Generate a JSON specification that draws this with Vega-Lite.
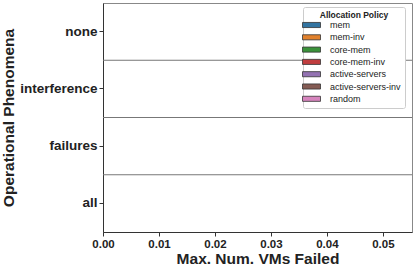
{
  "$schema": "https://vega.github.io/schema/vega-lite/v6.json",
  "autosize": "none",
  "width": 309,
  "height": 229,
  "padding": {"left": 103, "top": 3, "right": 3, "bottom": 36},
  "background": "white",
  "config": {
    "view": {"stroke": "#888", "strokeWidth": 1},
    "font": "Liberation Sans",
    "axis": {
      "labelFont": "Liberation Sans",
      "labelFontWeight": "bold",
      "labelColor": "#222",
      "titleFont": "Liberation Sans",
      "titleFontWeight": "bold",
      "titleColor": "#222",
      "domainColor": "#333",
      "tickColor": "#333",
      "grid": false
    }
  },
  "data": {
    "values": [
      {"phenomenon": "none", "policy": "mem", "value": 0},
      {"phenomenon": "none", "policy": "mem-inv", "value": 0},
      {"phenomenon": "none", "policy": "core-mem", "value": 0},
      {"phenomenon": "none", "policy": "core-mem-inv", "value": 0},
      {"phenomenon": "none", "policy": "active-servers", "value": 0},
      {"phenomenon": "none", "policy": "active-servers-inv", "value": 0},
      {"phenomenon": "none", "policy": "random", "value": 0},
      {"phenomenon": "interference", "policy": "mem", "value": 0},
      {"phenomenon": "interference", "policy": "mem-inv", "value": 0},
      {"phenomenon": "interference", "policy": "core-mem", "value": 0},
      {"phenomenon": "interference", "policy": "core-mem-inv", "value": 0},
      {"phenomenon": "interference", "policy": "active-servers", "value": 0},
      {"phenomenon": "interference", "policy": "active-servers-inv", "value": 0},
      {"phenomenon": "interference", "policy": "random", "value": 0},
      {"phenomenon": "failures", "policy": "mem", "value": 0},
      {"phenomenon": "failures", "policy": "mem-inv", "value": 0},
      {"phenomenon": "failures", "policy": "core-mem", "value": 0},
      {"phenomenon": "failures", "policy": "core-mem-inv", "value": 0},
      {"phenomenon": "failures", "policy": "active-servers", "value": 0},
      {"phenomenon": "failures", "policy": "active-servers-inv", "value": 0},
      {"phenomenon": "failures", "policy": "random", "value": 0},
      {"phenomenon": "all", "policy": "mem", "value": 0},
      {"phenomenon": "all", "policy": "mem-inv", "value": 0},
      {"phenomenon": "all", "policy": "core-mem", "value": 0},
      {"phenomenon": "all", "policy": "core-mem-inv", "value": 0},
      {"phenomenon": "all", "policy": "active-servers", "value": 0},
      {"phenomenon": "all", "policy": "active-servers-inv", "value": 0},
      {"phenomenon": "all", "policy": "random", "value": 0}
    ]
  },
  "layer": [
    {
      "mark": {"type": "bar", "strokeWidth": 0},
      "encoding": {
        "y": {
          "field": "phenomenon",
          "type": "nominal",
          "sort": ["none", "interference", "failures", "all"],
          "scale": {"paddingInner": 0, "paddingOuter": 0},
          "axis": {
            "title": "Operational Phenomena",
            "labelFontSize": 13.5,
            "tickSize": 4,
            "labelPadding": 2,
            "titleFontSize": 15.5,
            "titlePadding": 3
          }
        },
        "yOffset": {
          "field": "policy",
          "type": "nominal",
          "sort": ["mem", "mem-inv", "core-mem", "core-mem-inv", "active-servers", "active-servers-inv", "random"]
        },
        "x": {
          "field": "value",
          "type": "quantitative",
          "scale": {"domain": [0, 0.0552], "nice": false},
          "axis": {
            "title": "Max. Num. VMs Failed",
            "values": [0, 0.01, 0.02, 0.03, 0.04, 0.05],
            "format": ".2f",
            "labelFlush": false,
            "labelFontSize": 11.5,
            "tickSize": 4,
            "labelPadding": 2,
            "titleFontSize": 15.5,
            "titlePadding": 2
          }
        },
        "color": {
          "field": "policy",
          "type": "nominal",
          "sort": ["mem", "mem-inv", "core-mem", "core-mem-inv", "active-servers", "active-servers-inv", "random"],
          "scale": {
            "domain": ["mem", "mem-inv", "core-mem", "core-mem-inv", "active-servers", "active-servers-inv", "random"],
            "range": ["#3274a1", "#e1812c", "#3a923a", "#c03d3e", "#9372b2", "#845b53", "#d684bd"]
          },
          "legend": {
            "title": "Allocation Policy",
            "orient": "none",
            "legendX": 200,
            "legendY": 4,
            "titleFont": "Liberation Sans",
            "titleFontSize": 8.5,
            "titleFontWeight": "bold",
            "titleColor": "#222",
            "titleAnchor": "middle",
            "titlePadding": 1,
            "labelFont": "Liberation Sans",
            "labelFontSize": 9,
            "labelColor": "#222",
            "symbolType": "M-3,-0.85H3V0.85H-3Z",
            "symbolSize": 36,
            "symbolStrokeColor": "#333",
            "symbolStrokeWidth": 0.8,
            "symbolOpacity": 1,
            "labelOffset": 14,
            "rowPadding": 2.3,
            "padding": 4,
            "strokeColor": "#ccc",
            "fillColor": "white",
            "cornerRadius": 2
          }
        }
      }
    },
    {
      "transform": [
        {"filter": "datum.policy === 'mem' && datum.phenomenon !== 'none'"}
      ],
      "mark": {"type": "rule", "color": "#777", "strokeWidth": 1},
      "encoding": {
        "y": {
          "field": "phenomenon",
          "type": "nominal",
          "sort": ["none", "interference", "failures", "all"],
          "bandPosition": 0
        }
      }
    }
  ]
}
